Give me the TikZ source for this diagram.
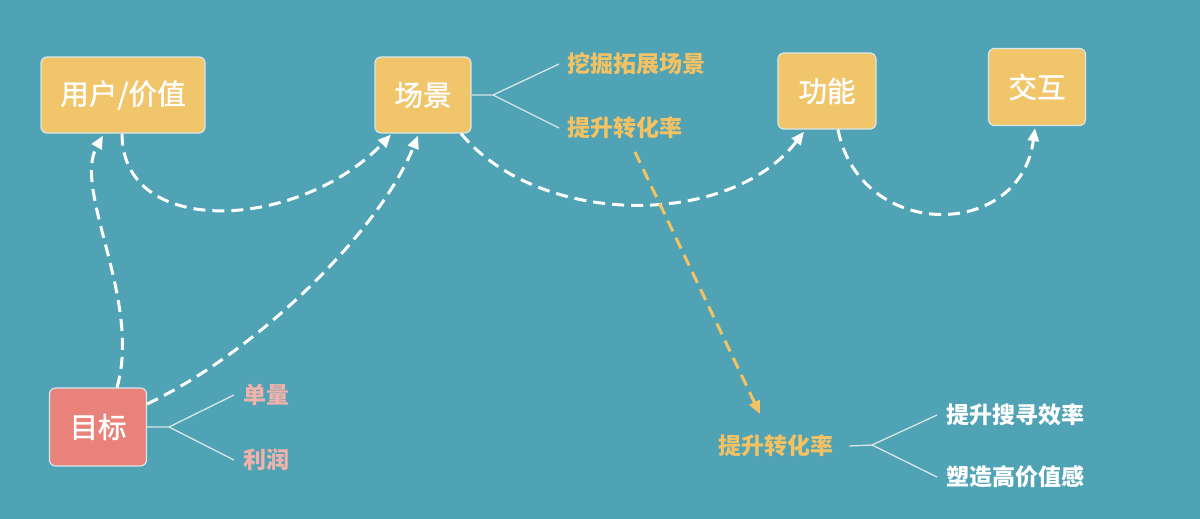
\documentclass[tikz,border=0pt]{standalone}
\usepackage{fontspec}
\setmainfont{Noto Sans CJK SC}
\newfontfamily\boxfont[FakeBold=1.3]{Noto Sans CJK SC}
\usetikzlibrary{arrows.meta}
\definecolor{bg}{HTML}{4FA3B4}
\definecolor{boxy}{HTML}{F1C56A}
\definecolor{boxr}{HTML}{E9827A}
\definecolor{edgeg}{HTML}{D8E6EA}
\definecolor{laby}{HTML}{F3C264}
\definecolor{labp}{HTML}{F0B2AA}
\tikzset{
  box/.style={draw=edgeg, line width=1.2pt, rounded corners=6pt, fill=boxy, text=white,
    font=\boxfont\fontsize{28.5}{30}\selectfont, inner sep=0pt},
  goalbox/.style={box, fill=boxr},
  lab/.style={font=\bfseries\fontsize{23}{25}\selectfont, inner sep=0pt, anchor=west},
  branch/.style={draw=edgeg, line width=1.3pt},
  conn/.style={draw=white, line width=3pt, dash pattern=on 12pt off 7pt,
    -{Triangle[length=13pt,width=11pt]}},
  yconn/.style={conn, draw=laby, -{Triangle[length=13pt,width=11pt,fill=laby]}}
}
\begin{document}
\begin{tikzpicture}[x=1pt,y=-1pt]
\fill[bg] (0,0) rectangle (1200,519);
\useasboundingbox (0,0) rectangle (1200,519);

% main boxes
\node[box, minimum width=164, minimum height=76] (user) at (123,95) {用户/价值};
\node[box, minimum width=96, minimum height=76] (scene) at (423,95) {场景};
\node[box, minimum width=98, minimum height=76] (func) at (827,91) {功能};
\node[box, minimum width=97, minimum height=77] (inter) at (1037,87) {交互};
\node[goalbox, minimum width=97, minimum height=78] (goal) at (98,427) {目标};

% labels
\node[lab, text=laby] (dig) at (567,64) {挖掘拓展场景};
\node[lab, text=laby] (rate1) at (567,128) {提升转化率};
\node[lab, text=labp] (vol) at (243,395) {单量};
\node[lab, text=labp] (profit) at (243,460) {利润};
\node[lab, text=laby] (rate2) at (718,446) {提升转化率};
\node[lab, text=white] (search) at (946,415) {提升搜寻效率};
\node[lab, text=white] (value) at (946,477) {塑造高价值感};

% fork coordinates
\coordinate (f1) at (493,95);
\coordinate (f2) at (169,427);
\coordinate (f3) at (872,445);

\draw[branch] (scene.east) -- (f1) -- ([xshift=-8pt]dig.west);
\draw[branch] (f1) -- ([xshift=-8pt]rate1.west);
\draw[branch] (goal.east) -- (f2) -- ([xshift=-9pt]vol.west);
\draw[branch] (f2) -- ([xshift=-9pt]profit.west);
\draw[branch] ([xshift=16pt]rate2.east) -- (f3) -- ([xshift=-9pt]search.west);
\draw[branch] (f3) -- ([xshift=-9pt]value.west);

% dashed connectors
\draw[conn] ([xshift=-1pt]user.south) .. controls (122,240) and (300,230) .. ([xshift=-32pt,yshift=-1pt]scene.south);
\draw[conn] ([xshift=19pt]goal.north) .. controls (142,300) and (72,190) .. ([xshift=-20pt,yshift=-2pt]user.south);
\draw[conn] ([yshift=23pt]goal.east) .. controls (260,350) and (380,230) .. ([xshift=-5pt,yshift=-2pt]scene.south);
\draw[conn] ([xshift=38pt]scene.south) .. controls (540,228) and (730,228) .. ([xshift=-23pt,yshift=-2pt]func.south);
\draw[conn] ([xshift=11pt]func.south) .. controls (860,241) and (1020,241) .. ([xshift=-2pt,yshift=-2pt]inter.south);

\coordinate (ys) at (635,152);
\coordinate (ye) at (760,414);
\draw[yconn] (ys) -- (ye);
\end{tikzpicture}
\end{document}
